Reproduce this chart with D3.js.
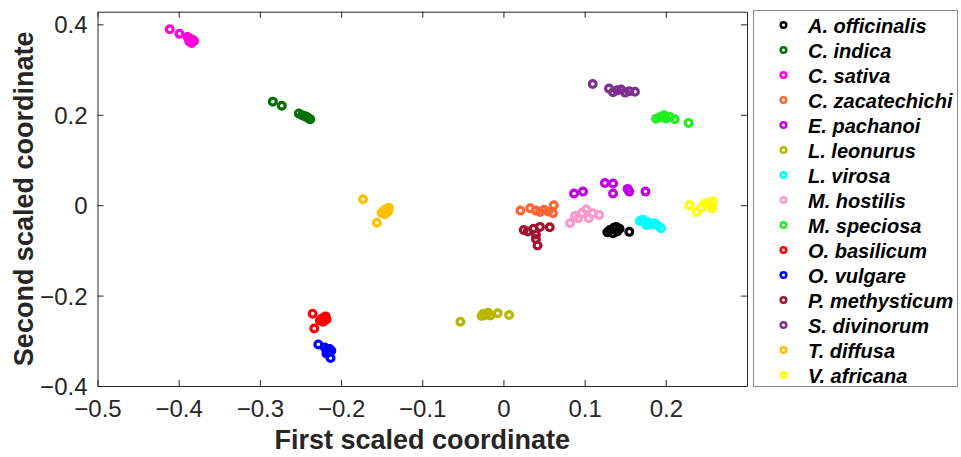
<!DOCTYPE html>
<html>
<head>
<meta charset="utf-8">
<script src="https://cdn.jsdelivr.net/npm/d3@7"></script>
<style>
  body { margin: 0; background: #fff; }
  svg { display: block; font-family: "Liberation Sans", Arial, sans-serif; }
</style>
</head>
<body>
<div id="rootDiv"></div>
<script>
const width = 961
const height = 457

// x ticks and y ticks shown on the axes
const xTicks = [-0.5, -0.4, -0.3, -0.2, -0.1, 0, 0.1, 0.2]
const yTicks = [-0.4, -0.2, 0, 0.2, 0.4]

const speciesNames = [
    "A. officinalis", "C. indica", "C. sativa", "C. zacatechichi", "E. pachanoi",
    "L. leonurus", "L. virosa", "M. hostilis", "M. speciosa", "O. basilicum",
    "O. vulgare", "P. methysticum", "S. divinorum", "T. diffusa", "V. africana"
]
const speciesColors = [
    "#000000", "#007000", "#ff00dd", "#ff6633", "#c000e6",
    "#b8b800", "#00ffff", "#ff99cc", "#22ee22", "#ff0000",
    "#0000ff", "#a0142e", "#7e2f8e", "#ffc000", "#ffff00"
]

// [first scaled coordinate, second scaled coordinate]
const aOfficinalis = [[0.128, -0.060], [0.131, -0.055], [0.136, -0.050], [0.139, -0.048], [0.143, -0.052], [0.135, -0.062], [0.140, -0.058], [0.155, -0.059]]
const cIndica = [[-0.284, 0.229], [-0.273, 0.220], [-0.252, 0.203], [-0.248, 0.199], [-0.245, 0.197], [-0.242, 0.195], [-0.240, 0.192], [-0.238, 0.190]]
const cSativa = [[-0.411, 0.389], [-0.399, 0.379], [-0.389, 0.372], [-0.386, 0.368], [-0.383, 0.366], [-0.387, 0.362], [-0.384, 0.359], [-0.381, 0.363]]
const cZacatechichi = [[0.021, -0.012], [0.033, -0.007], [0.040, -0.012], [0.045, -0.015], [0.050, -0.010], [0.055, -0.014], [0.062, 0.000], [0.061, -0.018]]
const ePachanoi = [[0.087, 0.026], [0.098, 0.030], [0.125, 0.049], [0.135, 0.048], [0.135, 0.026], [0.153, 0.036], [0.155, 0.030], [0.175, 0.030]]
const lLeonurus = [[-0.053, -0.258], [-0.027, -0.245], [-0.025, -0.241], [-0.022, -0.243], [-0.019, -0.238], [-0.016, -0.244], [-0.007, -0.239], [0.007, -0.243]]
const lVirosa = [[0.168, -0.035], [0.172, -0.032], [0.178, -0.038], [0.182, -0.042], [0.186, -0.040], [0.190, -0.045], [0.194, -0.051], [0.176, -0.044]]
const mHostilis = [[0.082, -0.040], [0.092, -0.029], [0.097, -0.017], [0.102, -0.009], [0.105, -0.029], [0.110, -0.018], [0.118, -0.022], [0.088, -0.024]]
const mSpeciosa = [[0.188, 0.191], [0.192, 0.194], [0.195, 0.196], [0.198, 0.199], [0.200, 0.192], [0.205, 0.195], [0.211, 0.190], [0.228, 0.182]]
const oBasilicum = [[-0.235, -0.240], [-0.233, -0.273], [-0.226, -0.255], [-0.223, -0.250], [-0.220, -0.248], [-0.218, -0.253], [-0.222, -0.258], [-0.219, -0.246]]
const oVulgare = [[-0.228, -0.308], [-0.220, -0.315], [-0.217, -0.320], [-0.214, -0.318], [-0.212, -0.322], [-0.218, -0.328], [-0.215, -0.325], [-0.213, -0.338]]
const pMethysticum = [[0.025, -0.055], [0.030, -0.058], [0.037, -0.052], [0.040, -0.065], [0.045, -0.048], [0.040, -0.075], [0.057, -0.049], [0.042, -0.089]]
const sDivinorum = [[0.110, 0.268], [0.130, 0.258], [0.135, 0.250], [0.140, 0.254], [0.145, 0.256], [0.150, 0.249], [0.155, 0.252], [0.162, 0.251]]
const tDiffusa = [[-0.173, 0.013], [-0.156, -0.039], [-0.150, -0.017], [-0.147, -0.012], [-0.144, -0.008], [-0.142, -0.014], [-0.146, -0.020], [-0.141, -0.006]]
const vAfricana = [[0.229, 0.000], [0.238, -0.015], [0.244, -0.005], [0.248, 0.003], [0.252, 0.006], [0.255, 0.000], [0.258, 0.008], [0.257, -0.007]]

const speciesPoints = [
    aOfficinalis, cIndica, cSativa, cZacatechichi, ePachanoi,
    lLeonurus, lVirosa, mHostilis, mSpeciosa, oBasilicum,
    oVulgare, pMethysticum, sDivinorum, tDiffusa, vAfricana
]

const plotLeft = 97.5, plotRight = 747, plotTop = 11.7, plotBottom = 386
const axisColor = "#262626"

const x = d3.scaleLinear().domain([-0.5, 0.3]).range([plotLeft, plotRight])
const y = d3.scaleLinear().domain([-0.4, 0.428]).range([plotBottom, plotTop])

const svg = d3.select(document.getElementById("rootDiv"))
    .append("svg")
    .attr("width", width)
    .attr("height", height)

// points
const marks = svg.append("g")
speciesPoints.forEach((pts, i) => {
    marks.selectAll(null)
        .data(pts)
        .enter()
        .append("circle")
        .attr("cx", d => x(d[0]))
        .attr("cy", d => y(d[1]))
        .attr("r", 3.4)
        .attr("fill", "none")
        .attr("stroke", speciesColors[i])
        .attr("stroke-width", 3.2)
})

// axes, ticks inward on all four sides
const tickLen = 6
const bottomAxis = svg.append("g")
    .attr("transform", `translate(0, ${plotBottom})`)
    .call(d3.axisBottom(x).tickValues(xTicks).tickSizeInner(-tickLen).tickSizeOuter(0).tickPadding(14).tickFormat(d3.format("")))
const topAxis = svg.append("g")
    .attr("transform", `translate(0, ${plotTop})`)
    .call(d3.axisTop(x).tickValues(xTicks).tickSizeInner(-tickLen).tickSizeOuter(0).tickFormat(""))
const leftAxis = svg.append("g")
    .attr("transform", `translate(${plotLeft}, 0)`)
    .call(d3.axisLeft(y).tickValues(yTicks).tickSizeInner(-tickLen).tickSizeOuter(0).tickPadding(10).tickFormat(d3.format("")))
const rightAxis = svg.append("g")
    .attr("transform", `translate(${plotRight}, 0)`)
    .call(d3.axisRight(y).tickValues(yTicks).tickSizeInner(-tickLen).tickSizeOuter(0).tickFormat(""))

for (const ax of [bottomAxis, topAxis, leftAxis, rightAxis]) {
    ax.select(".domain").attr("stroke", axisColor).attr("stroke-width", 1)
    ax.selectAll(".tick line").attr("stroke", axisColor).attr("stroke-width", 1)
    ax.selectAll(".tick text")
        .attr("fill", axisColor)
        .style("font-size", "24px")
        .style("font-family", "'Liberation Sans', Arial, sans-serif")
}
leftAxis.selectAll(".tick text").attr("dy", "0.36em")

// axis titles
svg.append("text")
    .attr("x", (plotLeft + plotRight) / 2)
    .attr("y", 449)
    .attr("text-anchor", "middle")
    .attr("fill", axisColor)
    .style("font-size", "27px")
    .style("font-weight", "bold")
    .text("First scaled coordinate")

svg.append("text")
    .attr("transform", `translate(33, ${(plotTop + plotBottom) / 2}) rotate(-90)`)
    .attr("text-anchor", "middle")
    .attr("fill", axisColor)
    .style("font-size", "27px")
    .style("font-weight", "bold")
    .text("Second scaled coordinate")

// legend
const legend = svg.append("g")
legend.append("rect")
    .attr("x", 753.5)
    .attr("y", 10.5)
    .attr("width", 204)
    .attr("height", 376)
    .attr("fill", "#fff")
    .attr("stroke", "#8c8c8c")
    .attr("stroke-width", 1)

const rows = legend.selectAll(".row")
    .data(speciesNames)
    .enter()
    .append("g")
    .attr("class", "row")
    .attr("transform", (_d, i) => `translate(0, ${25 + i * 25})`)

rows.append("circle")
    .attr("cx", 783.5)
    .attr("cy", 0)
    .attr("r", 2.8)
    .attr("fill", "none")
    .attr("stroke", (_d, i) => speciesColors[i])
    .attr("stroke-width", 2.5)

rows.append("text")
    .attr("x", 808)
    .attr("y", 8)
    .attr("fill", "#000")
    .style("font-size", "20px")
    .style("font-weight", "bold")
    .style("font-style", "italic")
    .text(d => d)
</script>
</body>
</html>
